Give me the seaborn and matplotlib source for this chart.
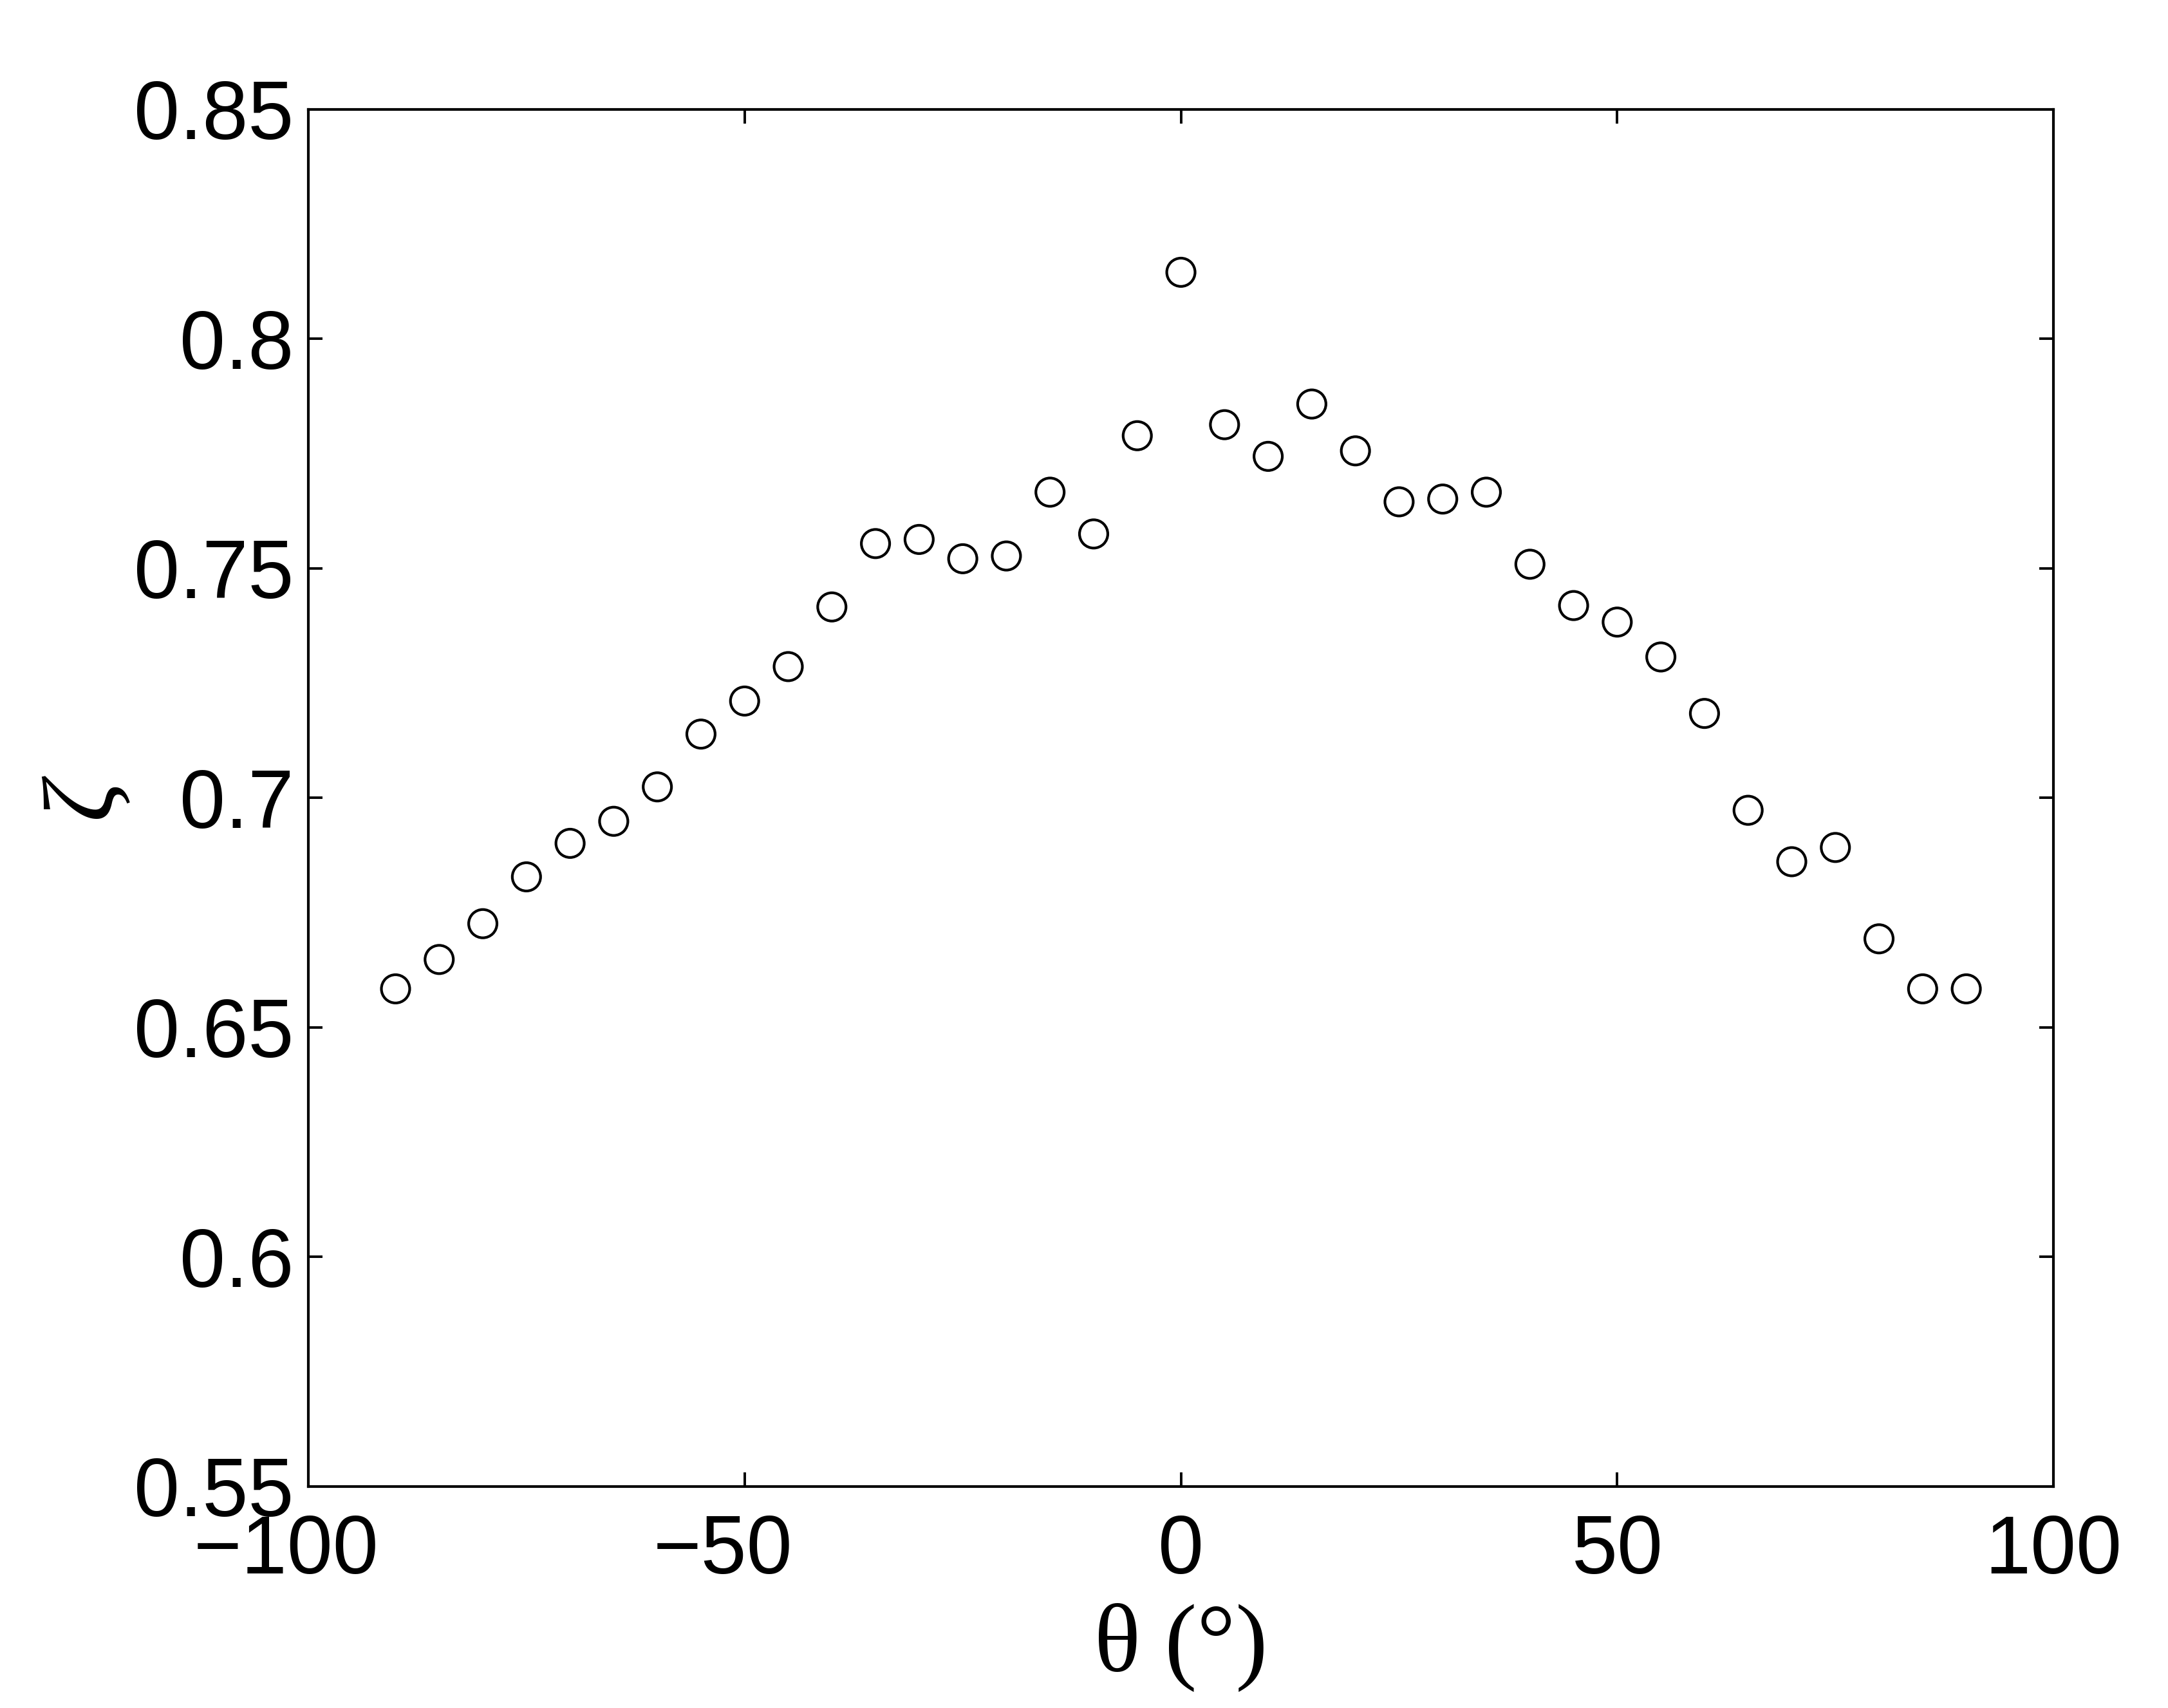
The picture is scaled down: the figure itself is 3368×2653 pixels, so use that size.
import matplotlib
matplotlib.use("Agg")

import matplotlib.pyplot as plt
import matplotlib.transforms as mtransforms
import seaborn as sns
import pandas as pd

sns.set_style("ticks")

# angle (deg) and zeta
theta = [-90, -85, -80, -75, -70, -65, -60, -55, -50, -45, -40, -35, -30,
         -25, -20, -15, -10, -5, 0, 5, 10, 15, 20, 25, 30, 35, 40, 45, 50,
         55, 60, 65, 70, 75, 80, 85, 90]
zeta = [0.6584, 0.6648, 0.6726, 0.6828, 0.6901, 0.6949, 0.7024, 0.7139,
        0.7211, 0.7286, 0.7416, 0.7554, 0.7563, 0.7521, 0.7527, 0.7666,
        0.7575, 0.7789, 0.8145, 0.7813, 0.7744, 0.7858, 0.7756, 0.7645,
        0.7651, 0.7666, 0.7509, 0.7419, 0.7383, 0.7307, 0.7184, 0.6973,
        0.6861, 0.6892, 0.6693, 0.6584, 0.6584]

x_ticks = [-100, -50, 0, 50, 100]
x_ticklabels = ["\u2212100", "\u221250", "0", "50", "100"]
y_ticks = [0.55, 0.60, 0.65, 0.70, 0.75, 0.80, 0.85]
y_ticklabels = ["0.55", "0.6", "0.65", "0.7", "0.75", "0.8", "0.85"]

df = pd.DataFrame({"theta": theta, "zeta": zeta})

sans = ["Liberation Sans", "DejaVu Sans"]
serif = ["Liberation Serif", "DejaVu Serif"]

fig = plt.figure(figsize=(16.84, 13.265), dpi=200)
ax = fig.add_axes([0.1422, 0.1297, 0.805, 0.8063])

sns.scatterplot(
    data=df,
    x="theta",
    y="zeta",
    marker="o",
    s=250,
    facecolor="none",
    edgecolor="black",
    linewidth=1.5,
    ax=ax
)

ax.set_xlim(-100, 100)
ax.set_ylim(0.55, 0.85)

ax.tick_params(
    axis="both",
    direction="in",
    length=8,
    width=1.4,
    top=True,
    right=True,
    colors="black"
)
ax.tick_params(axis="x", pad=15)
ax.tick_params(axis="y", pad=8)

ax.set_xticks(x_ticks)
ax.set_xticklabels(x_ticklabels, fontsize=46, family=sans, color="black")
ax.set_yticks(y_ticks)
ax.set_yticklabels(y_ticklabels, fontsize=46, family=sans, color="black")

# negative labels sit a bit left of their ticks, as in the original
shift = mtransforms.ScaledTranslation(-0.17, 0, fig.dpi_scale_trans)
for lab in ax.get_xticklabels():
    if lab.get_text().startswith("\u2212"):
        lab.set_transform(lab.get_transform() + shift)

for sp in ax.spines.values():
    sp.set_visible(True)
    sp.set_linewidth(1.5)
    sp.set_color("black")

ax.set_xlabel("\u03b8 (\u00b0)", fontsize=54, family=serif, va="center",
              color="black")
ax.xaxis.set_label_coords(0.5, -0.117)
ax.set_ylabel("\u03b6", fontsize=56, family=serif, style="italic",
              va="center", ha="center", color="black")
ax.yaxis.set_label_coords(-0.128, 0.5)

fig.savefig("out.png", dpi=200, facecolor="white")
plt.close()
